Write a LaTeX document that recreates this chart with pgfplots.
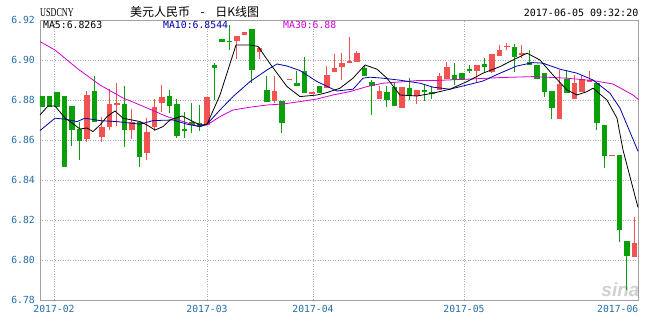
\documentclass[border=0pt]{standalone}
\usepackage{pgfplots}
\pgfplotsset{compat=1.18}
\usepackage{pgfplotstable}
\usepackage{fontspec}
\setmainfont{DejaVu Sans}
\newfontfamily\monof{DejaVu Sans Mono}
\newfontfamily\cjk{Noto Sans CJK SC}
\newfontfamily\usdf{Liberation Serif}
\newfontfamily\sinaf{Liberation Sans}
\newcommand\tickfont{\monof\fontsize{9.75}{10}\selectfont}
\definecolor{tickblue}{RGB}{35,110,165}
\definecolor{axisgray}{RGB}{160,160,160}
\definecolor{gridgray}{RGB}{170,170,170}
\definecolor{cred}{RGB}{242,82,82}
\definecolor{cgreen}{RGB}{10,160,10}
\definecolor{maten}{RGB}{0,0,170}
\definecolor{mathirty}{RGB}{210,0,210}

\pgfplotstableread{
i o h l c
6 6.8605 6.8845 6.859 6.8825
8 6.8615 6.8715 6.859 6.8665
9 6.8665 6.8855 6.865 6.878
10 6.878 6.8885 6.867 6.8785
12 6.865 6.8755 6.8605 6.869
14 6.8535 6.871 6.8498 6.864
15 6.8665 6.8805 6.8645 6.8765
16 6.8785 6.8875 6.874 6.8815
22 6.8678 6.8815 6.8675 6.8815
26 6.9095 6.912 6.9005 6.912
27 6.9125 6.914 6.9125 6.914
29 6.904 6.9065 6.9005 6.906
31 6.8795 6.892 6.8785 6.8845
33 6.8903 6.8905 6.8903 6.8905
36 6.8835 6.8838 6.8835 6.8838
38 6.886 6.897 6.886 6.8925
39 6.894 6.903 6.894 6.896
40 6.8965 6.9035 6.89 6.8985
41 6.8985 6.9115 6.8985 6.8995
42 6.899 6.9045 6.899 6.9035
45 6.8805 6.887 6.8805 6.8845
48 6.876 6.8865 6.876 6.8865
50 6.882 6.885 6.878 6.885
53 6.885 6.8935 6.885 6.892
54 6.8905 6.899 6.8905 6.8965
58 6.8945 6.8975 6.889 6.8975
60 6.894 6.903 6.8935 6.903
61 6.902 6.9075 6.902 6.905
62 6.9069 6.9085 6.905 6.907
64 6.9025 6.9075 6.901 6.9035
69 6.8705 6.895 6.8705 6.888
71 6.8805 6.8925 6.8805 6.8885
72 6.884 6.8925 6.884 6.8905
73 6.8895 6.8945 6.8895 6.89
76 6.8524 6.8525 6.8524 6.8525
79 6.8015 6.8215 6.8015 6.8085
}\redcandles

\pgfplotstableread{
i o h l c
0 6.882 6.882 6.8765 6.8765
1 6.882 6.882 6.8765 6.8765
2 6.884 6.884 6.8765 6.8765
3 6.882 6.882 6.8465 6.8465
4 6.877 6.877 6.857 6.865
5 6.8655 6.869 6.85 6.8595
7 6.8845 6.892 6.869 6.869
11 6.878 6.887 6.8565 6.865
13 6.869 6.869 6.8465 6.8515
17 6.882 6.885 6.8735 6.877
18 6.878 6.8805 6.861 6.862
19 6.8653 6.874 6.861 6.865
20 6.869 6.8785 6.8635 6.8675
21 6.8685 6.8775 6.8645 6.8668
23 6.8975 6.8985 6.88 6.896
24 6.9105 6.9105 6.909 6.909
25 6.9095 6.9175 6.905 6.9093
28 6.9155 6.9155 6.8885 6.895
30 6.885 6.892 6.879 6.879
32 6.8795 6.8795 6.8635 6.8685
34 6.8885 6.8945 6.887 6.887
35 6.8945 6.9015 6.8835 6.8835
37 6.887 6.887 6.8835 6.8835
43 6.896 6.8975 6.892 6.892
44 6.889 6.89 6.8725 6.887
46 6.884 6.887 6.8765 6.88
47 6.8865 6.8885 6.877 6.877
49 6.886 6.891 6.88 6.882
51 6.8848 6.888 6.8795 6.8845
52 6.884 6.8865 6.8805 6.883
55 6.8925 6.8985 6.8875 6.89
56 6.8935 6.8935 6.89 6.89
57 6.8951 6.8975 6.8935 6.895
59 6.898 6.901 6.8935 6.8965
63 6.9065 6.908 6.894 6.9015
65 6.899 6.905 6.8975 6.8975
66 6.8975 6.8975 6.8905 6.8905
67 6.8935 6.8935 6.8815 6.884
68 6.8845 6.8845 6.8705 6.876
70 6.8905 6.895 6.8835 6.8835
74 6.8885 6.8885 6.865 6.8685
75 6.8675 6.8675 6.846 6.852
77 6.8525 6.8525 6.809 6.815
78 6.8095 6.8095 6.785 6.802
}\greencandles

\pgfplotstableread{
i v
-0.27 6.8725
0.8 6.877
1.73 6.877
3.07 6.871
4 6.8685
5.07 6.8655
6 6.866
6.8 6.8642
7.73 6.8675
8.67 6.8717
9.73 6.8745
10.8 6.8709
12 6.87
13.07 6.8692
14 6.8675
15.07 6.865
16.13 6.8667
17.07 6.87
18.67 6.872
19.73 6.87
21.07 6.8675
22 6.8678
23.73 6.8825
25.87 6.9075
27.73 6.9075
28.8 6.9068
30.53 6.8975
32.67 6.8867
34.4 6.8817
36.67 6.8825
38 6.8837
39.73 6.8859
41.47 6.8909
43.07 6.8975
44.67 6.8954
46 6.8909
47.73 6.8825
50 6.882
52.13 6.8834
54.4 6.8854
56.67 6.8892
58.8 6.8934
61.07 6.8967
62.8 6.9
64.67 6.9034
66.4 6.9
68.13 6.8925
70 6.885
71.33 6.8825
72.67 6.8842
73.47 6.8859
75.33 6.88
76.67 6.8709
77.47 6.855
79.47 6.8263
}\mafive

\pgfplotstableread{
i v
-0.27 6.8647
1.73 6.8709
3.07 6.8704
4.67 6.8692
5.73 6.8709
7.73 6.8697
10 6.8692
13.07 6.8679
14.8 6.8697
17.47 6.87
19.33 6.8679
21.07 6.8667
22 6.8679
23.73 6.875
25.47 6.8817
27.73 6.8892
30 6.895
31.33 6.898
32.67 6.897
34.4 6.8947
36.67 6.8892
39.33 6.8845
41.47 6.8854
42.8 6.8909
43.73 6.8914
45.47 6.8909
47.73 6.8899
50.4 6.8884
52.13 6.8864
54.4 6.8854
56.67 6.8875
58.8 6.8895
61.07 6.8934
63.33 6.897
65.47 6.8987
66.8 6.8984
69.07 6.8954
71.33 6.8934
73.47 6.89
75.73 6.8834
77.07 6.8759
79.47 6.8544
}\maten

\pgfplotstableread{
i v
-0.27 6.9092
1.73 6.905
4.8 6.8955
7.73 6.8875
10.8 6.881
13.07 6.8775
16.67 6.8717
18.4 6.8697
20.67 6.867
22 6.8675
23.73 6.8717
25.47 6.875
27.73 6.8764
30 6.8775
32.13 6.878
34.4 6.8792
36.67 6.8805
38.8 6.8825
41.07 6.8842
43.33 6.8867
45.47 6.8884
47.73 6.889
50 6.8897
52.13 6.8897
56.67 6.8904
61.07 6.8912
65.47 6.8917
70 6.8909
73.47 6.8897
76.13 6.888
78.8 6.8825
79.6 6.88
}\mathirty

\begin{document}
\begin{tikzpicture}
\useasboundingbox (0,0) rectangle (646pt,318pt);
\fill[white] (0,0) rectangle (646pt,318pt);
\node[anchor=base, inner sep=0pt, text=black!18, font=\sinaf\bfseries\itshape\fontsize{19}{19}\selectfont] at (620.5pt,21pt) {sina};
\begin{axis}[
  at={(40pt,18pt)}, anchor=south west,
  scale only axis, width=598.6pt, height=280pt,
  xmin=-0.2667, xmax=79.55, ymin=6.78, ymax=6.92,
  axis line style={draw=axisgray, line width=0.8pt},
  xtick={1.6,22,36.13,56.27},
  xticklabels={2017-02,2017-03,2017-04,2017-05},
  ytick={6.78,6.8,6.82,6.84,6.86,6.88,6.9,6.92},
  yticklabels={6.78,6.80,6.82,6.84,6.86,6.88,6.90,6.92},
  major tick length=0pt,
  grid=major,
  major grid style={draw=gridgray, line width=0.7pt, dash pattern=on 1pt off 1.5pt},
  tick label style={font=\tickfont, text=tickblue, inner sep=0pt},
  xticklabel style={yshift=-5pt},
  yticklabel style={xshift=-5pt},
  candle/.style={draw=none, mark=none, forget plot, error bars/y dir=both, error bars/y explicit, error bars/error mark=none},
]
% wicks
\addplot[candle, error bars/error bar style={draw=cred, line width=1pt}]
  table[x=i, y expr={(\thisrow{h}+\thisrow{l})/2}, y error expr={(\thisrow{h}-\thisrow{l})/2}] {\redcandles};
\addplot[candle, error bars/error bar style={draw=cgreen, line width=1pt}]
  table[x=i, y expr={(\thisrow{h}+\thisrow{l})/2}, y error expr={(\thisrow{h}-\thisrow{l})/2}] {\greencandles};
% bodies
\addplot[candle, error bars/error bar style={draw=cred, line width=5.5pt}]
  table[x=i, y expr={(\thisrow{o}+\thisrow{c})/2}, y error expr={max(abs(\thisrow{o}-\thisrow{c})/2,0.0003)}] {\redcandles};
\addplot[candle, error bars/error bar style={draw=cgreen, line width=5.5pt}]
  table[x=i, y expr={(\thisrow{o}+\thisrow{c})/2}, y error expr={max(abs(\thisrow{o}-\thisrow{c})/2,0.0003)}] {\greencandles};
% moving averages
\addplot[mathirty, line width=0.8pt, mark=none] table[x=i, y=v] {\mathirty};
\addplot[maten, line width=0.8pt, mark=none] table[x=i, y=v] {\maten};
\addplot[black, line width=0.8pt, mark=none] table[x=i, y=v] {\mafive};
\end{axis}
\node[anchor=west, inner sep=0pt] at (40pt,305pt) {\usdf\fontsize{12}{12}\selectfont\scalebox{0.68}[1]{USDCNY}};
\node[anchor=west, inner sep=0pt] at (130pt,306pt) {\cjk\fontsize{12}{12}\selectfont 美元人民币\hspace{10.5pt}-\hspace{10.5pt}日K线图};
\node[anchor=east, inner sep=0pt] at (638.5pt,305.5pt) {\monof\fontsize{10}{10}\selectfont 2017-06-05 09:32:20};
\node[anchor=west, inner sep=0pt, text=black] at (43pt,293.5pt) {\monof\fontsize{9.8}{10}\selectfont MA5:6.8263};
\node[anchor=west, inner sep=0pt, text=maten] at (163pt,293.5pt) {\monof\fontsize{9.8}{10}\selectfont MA10:6.8544};
\node[anchor=west, inner sep=0pt, text=mathirty] at (283pt,293.5pt) {\monof\fontsize{9.8}{10}\selectfont MA30:6.88};
\node[anchor=north east, inner sep=0pt, text=tickblue] at (638.5pt,13pt) {\tickfont 2017-06};
\end{tikzpicture}
\end{document}
